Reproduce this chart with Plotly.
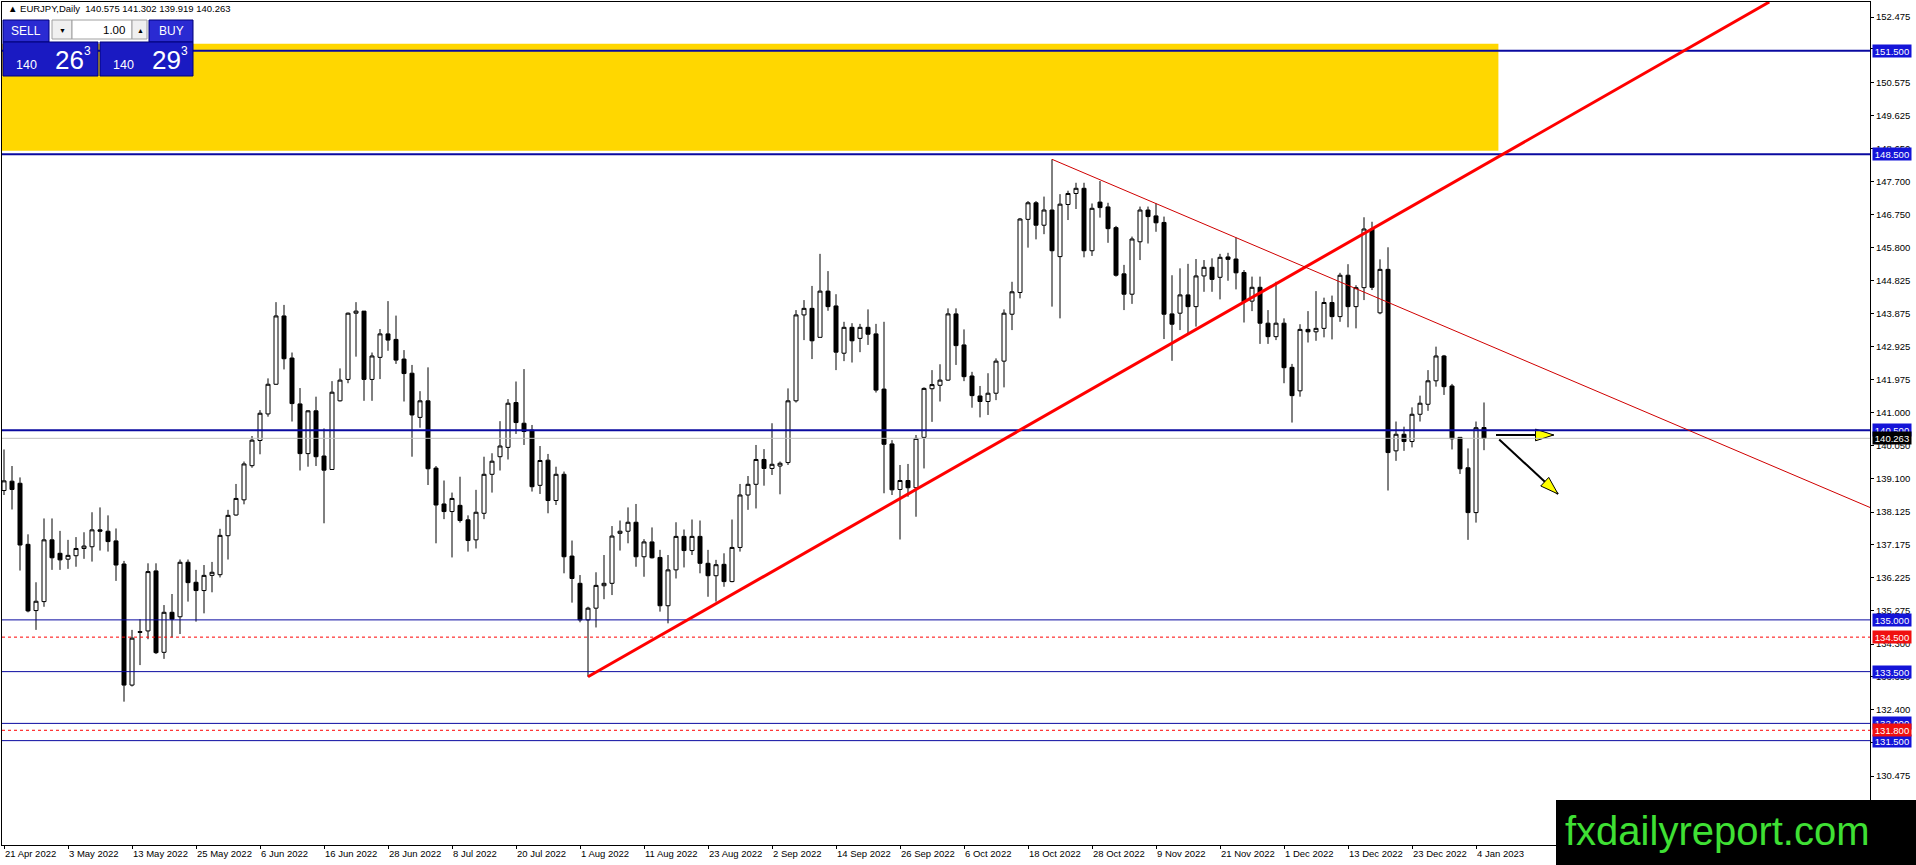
import math
import plotly.graph_objects as go

# EURJPY daily, 21 Apr 2022 .. 5 Jan 2023
opens = [138.75, 139.02, 138.96, 137.19, 135.27, 135.53, 137.32, 136.93, 136.76, 136.86,
         137.07, 137.12, 137.61, 137.57, 137.29, 136.62, 133.11, 134.66, 134.68, 136.42,
         134.06, 135.22, 135.09, 136.67, 136.09, 135.85, 136.29, 136.31, 137.44, 138.04,
         138.48, 139.47, 140.20, 140.97, 141.83, 143.81, 142.59, 141.26, 139.82, 141.06,
         139.75, 139.36, 141.35, 141.97, 143.89, 143.95, 141.97, 142.61, 143.29, 143.13,
         142.56, 142.15, 140.87, 141.35, 139.40, 138.36, 138.14, 138.32, 137.90, 137.32,
         138.09, 139.22, 139.73, 140.00, 141.30, 140.70, 140.50, 138.90, 139.63, 138.46,
         139.22, 136.85, 136.06, 135.00, 135.34, 135.99, 136.06, 137.51, 137.57, 137.83,
         136.83, 137.26, 136.81, 135.41, 136.45, 137.42, 137.01, 137.42, 136.64, 136.28,
         136.61, 136.11, 137.10, 138.62, 138.93, 139.65, 139.39, 139.46, 139.56, 141.35,
         143.84, 144.03, 143.19, 144.53, 144.10, 142.73, 143.48, 143.16, 143.48, 143.29,
         141.69, 140.10, 138.78, 139.04, 138.83, 140.29, 141.70, 141.80, 141.95, 143.87,
         142.97, 142.07, 141.49, 141.33, 141.57, 142.50, 143.86, 144.49, 146.61, 147.09,
         146.44, 146.88, 145.53, 147.04, 147.36, 147.51, 145.70, 147.11, 146.97, 146.37,
         145.03, 144.44, 145.96, 146.88, 146.71, 146.52, 143.87, 143.89, 144.42, 144.08,
         144.97, 145.22, 144.93, 145.52, 145.46, 145.07, 144.24, 144.64, 143.60, 143.21,
         143.60, 142.32, 141.64, 143.42, 143.35, 143.45, 144.20, 143.79, 144.99, 144.08,
         144.63, 146.33, 143.90, 145.16, 139.90, 140.38, 140.17, 140.96, 141.25, 141.93,
         142.65, 141.78, 140.29, 139.41, 138.11, 140.575]
highs = [139.94, 139.46, 139.13, 137.48, 136.09, 137.94, 137.94, 137.58, 137.32, 137.40,
         137.54, 138.12, 138.26, 138.03, 137.65, 136.71, 134.71, 135.02, 136.64, 136.64,
         135.43, 135.75, 136.75, 136.75, 136.45, 136.59, 136.68, 137.64, 138.19, 138.94,
         139.59, 140.33, 141.08, 142.00, 144.21, 144.13, 142.75, 141.72, 141.08, 141.47,
         140.55, 141.92, 142.29, 143.91, 144.21, 143.95, 142.75, 143.43, 144.24, 143.82,
         142.82, 142.39, 141.63, 142.32, 139.46, 139.04, 138.69, 139.15, 138.03, 138.77,
         139.73, 139.83, 140.76, 141.40, 141.91, 142.27, 140.65, 140.04, 139.81, 139.44,
         139.30, 137.30, 136.30, 135.38, 136.38, 136.88, 137.72, 137.88, 138.26, 138.36,
         137.34, 137.68, 137.03, 136.88, 137.83, 137.62, 137.91, 137.88, 137.03, 136.74,
         136.93, 137.91, 138.94, 139.17, 140.07, 139.95, 140.70, 139.59, 141.71, 143.98,
         144.27, 144.68, 145.61, 145.11, 144.44, 143.64, 143.60, 143.58, 144.00, 143.58,
         143.64, 140.21, 139.49, 139.52, 140.36, 141.74, 142.24, 142.41, 144.03, 144.03,
         143.42, 142.19, 141.78, 142.15, 142.58, 144.00, 144.80, 146.65, 147.14, 147.14,
         147.27, 148.35, 147.34, 147.44, 147.67, 147.67, 147.07, 147.72, 147.09, 146.42,
         145.29, 146.11, 146.98, 146.98, 147.07, 146.69, 144.99, 145.19, 145.32, 145.46,
         145.43, 145.48, 145.61, 145.64, 146.08, 145.14, 144.95, 144.95, 143.98, 144.80,
         143.74, 142.42, 143.57, 143.95, 144.53, 144.34, 144.40, 145.06, 145.31, 144.70,
         146.67, 146.54, 145.45, 145.80, 140.75, 140.60, 141.16, 141.50, 142.24, 142.92,
         142.68, 141.84, 140.30, 139.97, 140.75, 141.302]
lows = [138.62, 138.20, 136.43, 135.22, 134.71, 135.38, 136.45, 136.45, 136.48, 136.54,
        136.77, 136.69, 137.01, 136.98, 136.13, 132.63, 133.07, 133.69, 134.44, 134.01,
        133.87, 134.49, 134.59, 135.53, 134.95, 135.19, 135.80, 136.23, 136.75, 138.02,
        138.35, 139.41, 139.80, 140.89, 141.81, 142.26, 140.75, 139.33, 139.44, 139.46,
        137.80, 139.36, 141.33, 141.86, 142.63, 141.35, 141.35, 141.98, 142.80, 142.42,
        141.33, 139.73, 140.57, 138.91, 137.22, 137.92, 136.81, 137.82, 136.98, 137.07,
        137.92, 138.69, 139.33, 139.65, 140.39, 140.07, 138.72, 138.65, 138.09, 138.33,
        136.35, 135.50, 134.93, 133.35, 134.78, 135.60, 135.72, 137.01, 137.22, 136.54,
        136.25, 136.78, 135.24, 134.90, 136.20, 136.52, 136.88, 136.35, 135.67, 135.53,
        135.96, 136.09, 136.98, 138.19, 138.23, 138.89, 139.20, 138.64, 139.49, 141.30,
        143.11, 142.56, 143.19, 143.96, 142.24, 142.50, 142.46, 142.76, 142.97, 141.59,
        138.67, 138.62, 137.33, 138.57, 137.99, 139.39, 140.74, 141.33, 141.93, 142.39,
        141.92, 141.15, 140.87, 140.94, 141.37, 141.74, 143.40, 144.32, 145.79, 146.03,
        146.18, 144.08, 143.74, 146.59, 146.91, 145.51, 145.55, 146.66, 145.93, 144.95,
        143.98, 144.16, 145.43, 145.91, 146.25, 143.14, 142.51, 143.40, 143.31, 143.50,
        144.51, 144.51, 144.29, 144.83, 144.58, 143.62, 143.95, 143.00, 143.00, 143.11,
        141.86, 140.72, 141.47, 143.04, 143.09, 143.19, 143.13, 143.64, 143.48, 143.45,
        144.27, 144.56, 143.86, 138.75, 139.61, 139.90, 140.00, 140.75, 141.06, 141.76,
        141.52, 139.94, 139.23, 137.32, 137.82, 139.919]
closes = [139.03, 138.78, 137.17, 135.26, 135.54, 137.32, 136.80, 136.74, 136.87, 137.07,
          137.14, 137.61, 137.57, 137.27, 136.59, 133.11, 134.47, 134.64, 136.40, 134.05,
          135.22, 135.02, 136.67, 136.08, 135.85, 136.29, 136.38, 137.45, 138.03, 138.52,
          139.52, 140.21, 140.99, 141.83, 143.81, 142.57, 141.27, 139.82, 141.06, 139.73,
          139.34, 141.60, 141.95, 143.89, 143.95, 141.97, 142.65, 143.29, 143.11, 142.53,
          142.14, 140.94, 141.35, 139.38, 138.33, 138.14, 138.52, 137.88, 137.30, 138.12,
          139.22, 139.60, 140.04, 141.28, 140.72, 140.46, 138.86, 139.62, 138.46, 139.22,
          136.83, 136.20, 135.00, 135.34, 136.00, 136.06, 137.43, 137.57, 137.83, 136.83,
          137.26, 136.80, 135.41, 136.45, 137.42, 137.01, 137.42, 136.64, 136.28, 136.60,
          136.11, 137.10, 138.62, 138.93, 139.65, 139.39, 139.51, 139.54, 141.35, 143.84,
          144.03, 143.09, 144.53, 144.08, 142.76, 143.48, 143.09, 143.48, 143.28, 141.66,
          140.09, 138.77, 139.04, 138.83, 140.26, 141.71, 141.82, 141.95, 143.87, 142.95,
          142.05, 141.50, 141.33, 141.57, 142.50, 143.89, 144.51, 146.62, 147.09, 146.44,
          146.88, 145.70, 147.05, 147.36, 147.51, 145.70, 146.93, 146.95, 146.34, 144.99,
          144.44, 146.04, 146.88, 146.69, 146.51, 143.86, 143.57, 144.42, 144.08, 144.97,
          145.22, 144.87, 145.51, 145.45, 145.06, 144.22, 144.64, 143.60, 143.21, 143.60,
          142.31, 141.50, 143.42, 143.35, 143.45, 144.20, 143.79, 144.99, 144.08, 144.63,
          146.33, 144.64, 145.16, 139.85, 140.38, 140.17, 140.96, 141.28, 141.93, 142.65,
          141.76, 140.25, 139.38, 138.11, 140.57, 140.263]
ask = 140.293

date_labels = ["21 Apr 2022", "3 May 2022", "13 May 2022", "25 May 2022", "6 Jun 2022",
               "16 Jun 2022", "28 Jun 2022", "8 Jul 2022", "20 Jul 2022", "1 Aug 2022",
               "11 Aug 2022", "23 Aug 2022", "2 Sep 2022", "14 Sep 2022", "26 Sep 2022",
               "6 Oct 2022", "18 Oct 2022", "28 Oct 2022", "9 Nov 2022", "21 Nov 2022",
               "1 Dec 2022", "13 Dec 2022", "23 Dec 2022", "4 Jan 2023"]
price_labels = ["152.475", "151.550", "150.575", "149.625", "148.650", "147.700",
                "146.750", "145.800", "144.825", "143.875", "142.925", "141.975",
                "141.000", "140.050", "139.100", "138.125", "137.175", "136.225",
                "135.275", "134.300", "133.350", "132.400", "131.450", "130.475"]

# drawn objects
thick_levels = [151.5, 148.5, 140.5]
thin_levels = [135.0, 133.5, 132.0, 131.5]
dotted_levels = [134.5, 131.8]
zone_prices = [148.6, 151.7]
zone_end_bar = 186.8
up_line_bars = [73, 150]
up_line_prices = [133.35, 143.55]
down_line_bars = [131, 154]
down_line_prices = [148.35, 146.08]
arrow_bars = [[186.5, 193.7], [186.9, 194.25]]
arrow_prices = [[140.36, 140.36], [140.23, 138.65]]

# page geometry (mimics the MT4 window)
W, H = 1916, 865
ML, MR, MT, MB = 2, 46, 2, 20
PW, PH = W - ML - MR, H - MT - MB
x_range = [-0.25, 233.25]
y_range = [128.475, 152.91]
PX_BAR = PW / (x_range[1] - x_range[0])
PX_PRICE = PH / (y_range[1] - y_range[0])

LINE_BLUE = "#0A0AA0"
TAG_BLUE = "#1414D8"
RED = "#FF0000"


def px(x):
    return (x - ML) / PW


def py(y):
    return 1 - (y - MT) / PH


bars = list(range(len(opens)))
bid = closes[-1]

fig = go.Figure()
fig.add_trace(go.Candlestick(
    x=bars, open=opens, high=highs, low=lows, close=closes,
    increasing=dict(line=dict(color="black", width=1), fillcolor="white"),
    decreasing=dict(line=dict(color="black", width=1), fillcolor="black"),
    whiskerwidth=0, hoverinfo="skip", showlegend=False))

# arrows: black shaft, yellow head
for b, p in zip(arrow_bars, arrow_prices):
    ang = math.degrees(math.atan2(-(p[1] - p[0]) * PX_PRICE, (b[1] - b[0]) * PX_BAR)) + 90
    fig.add_trace(go.Scatter(x=b, y=p, mode="lines", line=dict(color="black", width=2),
                             hoverinfo="skip", showlegend=False))
    fig.add_trace(go.Scatter(x=[b[1]], y=[p[1]], mode="markers",
                             marker=dict(symbol="arrow", angle=ang, size=19, color="#FFFF00",
                                         line=dict(color="black", width=1)),
                             hoverinfo="skip", showlegend=False))

shapes = []
shapes.append(dict(type="rect", xref="x", yref="y", x0=x_range[0], x1=zone_end_bar,
                   y0=zone_prices[0], y1=zone_prices[1], fillcolor="#FFD700",
                   line=dict(width=0), layer="below"))
shapes.append(dict(type="line", xref="paper", yref="y", x0=0, x1=1, y0=bid, y1=bid,
                   line=dict(color="#C0C0C0", width=1)))
for lv in thick_levels:
    shapes.append(dict(type="line", xref="paper", yref="y", x0=0, x1=1, y0=lv, y1=lv,
                       line=dict(color=LINE_BLUE, width=2)))
for lv in thin_levels:
    shapes.append(dict(type="line", xref="paper", yref="y", x0=0, x1=1, y0=lv, y1=lv,
                       line=dict(color=LINE_BLUE, width=1)))
for lv in dotted_levels:
    shapes.append(dict(type="line", xref="paper", yref="y", x0=0, x1=1, y0=lv, y1=lv,
                       line=dict(color=RED, width=1, dash="3px,3px")))

# rising trend ray up to the top edge
k_up = (up_line_prices[1] - up_line_prices[0]) / (up_line_bars[1] - up_line_bars[0])
up_end = up_line_bars[0] + (y_range[1] - up_line_prices[0]) / k_up
shapes.append(dict(type="line", xref="x", yref="y", x0=up_line_bars[0], y0=up_line_prices[0],
                   x1=up_end, y1=y_range[1], line=dict(color=RED, width=3)))
# falling trend ray to the right edge
k_dn = (down_line_prices[1] - down_line_prices[0]) / (down_line_bars[1] - down_line_bars[0])
dn_end = down_line_prices[0] + k_dn * (x_range[1] - down_line_bars[0])
shapes.append(dict(type="line", xref="x", yref="y", x0=down_line_bars[0], y0=down_line_prices[0],
                   x1=x_range[1], y1=dn_end, line=dict(color="#D00000", width=1)))

# one-click trading panel
def box(x0, y0, x1, y1, fill, border):
    shapes.append(dict(type="rect", xref="paper", yref="paper", x0=px(x0), x1=px(x1),
                       y0=py(y1), y1=py(y0), fillcolor=fill, line=dict(color=border, width=1),
                       layer="above"))


box(3, 20, 49, 42, "#2A2AD2", "#00007A")
box(149, 20, 193, 42, "#2A2AD2", "#00007A")
box(52, 20, 72, 39, "#F0F0F0", "#A0A0A0")
box(72, 20, 132, 39, "#FFFFFF", "#A0A0A0")
box(132, 20, 147, 39, "#F0F0F0", "#A0A0A0")
box(3, 42, 98, 76, "#1A1AC2", "#00007A")
box(100, 42, 193, 76, "#1A1AC2", "#00007A")

# watermark box
shapes.append(dict(type="rect", xref="paper", yref="paper", x0=px(1556), x1=px(1916),
                   y0=py(865), y1=py(800), fillcolor="black", line=dict(width=0), layer="above"))

annotations = []


def label(x, y, text, size, color="white", anchor="center"):
    annotations.append(dict(xref="paper", yref="paper", x=px(x), y=py(y), text=text,
                            showarrow=False, xanchor=anchor, yanchor="middle",
                            font=dict(size=size, color=color)))


label(6, 9, "▲ EURJPY,Daily  %.3f %.3f %.3f %.3f" % (opens[-1], highs[-1], lows[-1], closes[-1]),
      9.5, "black", "left")
label(26, 31, "SELL", 12)
label(171, 31, "BUY", 12)
label(62, 30, "▼", 7, "black")
label(140, 30, "▲", 7, "black")
label(127, 30, "1.00", 11.5, "black", "right")
for s, cx in ((f"{bid:.3f}", 3), (f"{ask:.3f}", 100)):
    label(cx + 23, 65, s[:3], 12.5)
    label(cx + 66, 60, s[4:6], 26)
    label(cx + 84, 51, s[6:], 12)

tags = [(lv, TAG_BLUE) for lv in thick_levels + thin_levels] + \
       [(lv, "#F01010") for lv in dotted_levels] + [(bid, "black")]
for lv, col in tags:
    annotations.append(dict(xref="paper", x=1, xshift=2, xanchor="left", yref="y", y=lv,
                            yanchor="middle", text=f"{lv:.3f}", showarrow=False,
                            bgcolor=col, font=dict(color="white", size=9.5),
                            width=36, height=10, borderpad=1, align="center"))

annotations.append(dict(xref="paper", yref="paper", x=px(1717), y=py(831),
                        text="fxdailyreport.com", showarrow=False, xanchor="center",
                        yanchor="middle", font=dict(size=40, color="#3FE034")))

fig.update_layout(
    template="none",
    width=W, height=H,
    margin=dict(l=ML, r=MR, t=MT, b=MB, pad=0),
    paper_bgcolor="white", plot_bgcolor="white",
    font=dict(family="Liberation Sans", size=9.5, color="black"),
    showlegend=False,
    boxgap=0.5, boxgroupgap=0,
    shapes=shapes,
    annotations=annotations,
    xaxis=dict(range=x_range, rangeslider=dict(visible=False), tickmode="array",
               tickvals=[8 * i for i in range(len(date_labels))], ticktext=date_labels,
               ticks="outside", ticklen=3, tickcolor="black",
               ticklabelposition="outside right",
               showline=True, mirror=True, linecolor="black", linewidth=1,
               showgrid=False, zeroline=False, automargin=False),
    yaxis=dict(side="right", range=y_range, tickmode="array",
               tickvals=[float(t) for t in price_labels], ticktext=price_labels,
               ticks="outside", ticklen=3, tickcolor="black",
               showline=True, mirror=True, linecolor="black", linewidth=1,
               showgrid=False, zeroline=False, automargin=False),
)

fig.write_html("out.html", config={"displayModeBar": False},
               post_script="document.body.style.margin='0';")
